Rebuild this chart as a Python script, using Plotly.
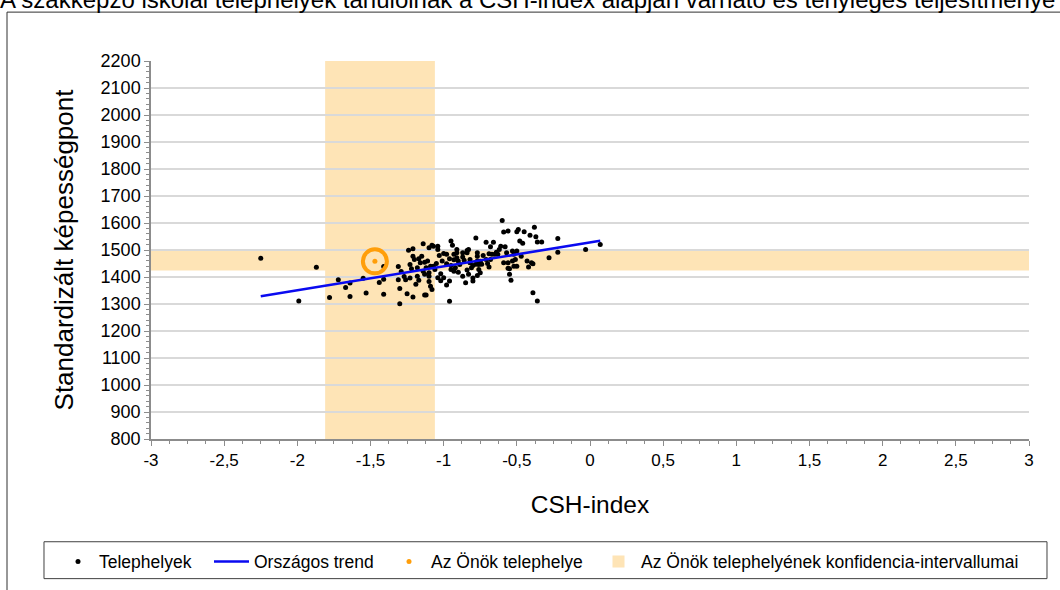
import plotly.graph_objects as go

# School sites: CSH-index vs. standardised ability score
telephely_x = [
    -2.25, -1.87, -1.99, -1.78, -1.72, -1.67, -1.64, -1.64, -1.55, -1.53,
    -1.44, -1.41, -1.41, -1.41, -1.31, -1.31, -1.30, -1.30, -1.27, -1.26,
    -1.25, -1.24, -1.21, -1.21, -1.23, -1.22, -1.23, -1.20, -1.18, -1.17,
    -1.16, -1.15, -1.14, -1.14, -1.13, -1.13, -1.13, -1.12, -1.12, -1.11,
    -1.10, -1.10, -1.09, -1.08, -1.08, -1.07, -1.07, -1.06, -1.05, -1.04,
    -1.03, -1.01, -1.02, -1.02, -1.00, -0.98, -0.98, -0.96, -0.96, -0.95,
    -0.95, -0.95, -0.94, -0.93, -0.93, -0.91, -0.90, -0.89, -0.87, -0.86,
    -0.85, -0.84, -0.84, -0.83, -0.82, -0.82, -0.80, -0.80, -0.78, -0.78,
    -0.77, -0.77, -0.77, -0.76, -0.76, -0.75, -0.74, -0.73, -0.71, -0.71,
    -0.70, -0.69, -0.66, -0.65, -0.64, -0.62, -0.61, -0.60, -0.59, -0.59,
    -0.58, -0.56, -0.56, -0.55, -0.55, -0.54, -0.53, -0.52, -0.51, -0.50,
    -0.49, -0.48, -0.46, -0.45, -0.43, -0.42, -0.41, -0.40, -0.39, -0.38,
    -0.37, -0.36, -0.36, -0.33, -0.28, -0.22, -0.22, -0.03, 0.07,
    -1.10, -1.21, -1.17, -1.29, -1.19, -1.18, -1.10, -1.09, -1.04, -0.98,
    -0.91, -0.91, -0.87, -0.90, -0.92, -0.87, -1.00, -0.96, -0.93, -1.04,
    -0.84, -0.77, -0.69, -0.63, -0.57, -0.68, -0.56, -0.53, -0.52, -0.47,
    -0.39, -0.81, -0.83, -0.75, -0.80, -0.68, -0.50, -0.67, -0.50,
]
telephely_y = [
    1469, 1436, 1311, 1324, 1390, 1361, 1378, 1328, 1395, 1341,
    1380, 1439, 1392, 1336, 1439, 1390, 1357, 1301, 1402, 1390,
    1338, 1499, 1505, 1326, 1446, 1431, 1396, 1465, 1434, 1388,
    1453, 1477, 1523, 1421, 1455, 1410, 1333, 1333, 1434, 1459,
    1416, 1383, 1366, 1518, 1354, 1514, 1440, 1428, 1450, 1514,
    1480, 1459, 1412, 1386, 1487, 1449, 1370, 1310, 1468, 1428,
    1533, 1443, 1518, 1484, 1464, 1490, 1418, 1446, 1474, 1462,
    1379, 1498, 1426, 1502, 1465, 1453, 1396, 1443, 1544, 1447,
    1406, 1459, 1490, 1446, 1428, 1458, 1447, 1480, 1529, 1465,
    1450, 1437, 1529, 1484, 1492, 1502, 1514, 1609, 1453, 1567,
    1512, 1432, 1570, 1410, 1431, 1388, 1496, 1484, 1465, 1568,
    1576, 1533, 1525, 1568, 1459, 1437, 1555, 1453, 1342, 1584,
    1549, 1311, 1530, 1530, 1471, 1543, 1492, 1502, 1520,
    1508, 1477, 1468, 1420, 1373, 1403, 1403, 1440, 1502, 1484,
    1502, 1471, 1490, 1459, 1434, 1403, 1397, 1385, 1421, 1397,
    1490, 1477, 1486, 1484, 1490, 1465, 1453, 1459, 1440, 1477,
    1449, 1434, 1410, 1416, 1385, 1512, 1496, 1484, 1440,
]

# National trend line (end points)
trend_x = [-2.25, 0.07]
trend_y = [1329, 1534]

# The school's own site and its confidence intervals
own_x = [-1.47]
own_y = [1458]
ci_x = [-1.81, -1.06]
ci_y = [1424, 1498]

x_tickvals = [-3, -2.5, -2, -1.5, -1, -0.5, 0, 0.5, 1, 1.5, 2, 2.5, 3]
x_ticktext = ["-3", "-2,5", "-2", "-1,5", "-1", "-0,5", "0", "0,5", "1", "1,5", "2", "2,5", "3"]

FONT = "Liberation Sans, Arial, sans-serif"
BAND = "#FEE4B6"
ORANGE = "#FF9E0A"

fig = go.Figure()

fig.add_trace(go.Scatter(
    x=telephely_x, y=telephely_y, mode="markers", name="Telephelyek",
    marker=dict(color="black", size=5), legend="legend", hoverinfo="x+y",
))
fig.add_trace(go.Scatter(
    x=trend_x, y=trend_y, mode="lines", name="Országos trend",
    line=dict(color="#0A0AF0", width=2.5), legend="legend2",
))
fig.add_trace(go.Scatter(
    x=own_x, y=own_y, mode="markers", showlegend=False,
    marker=dict(symbol="circle-open", size=24, color=ORANGE, line=dict(width=4, color=ORANGE)),
))
fig.add_trace(go.Scatter(
    x=own_x, y=own_y, mode="markers", name="Az Önök telephelye",
    marker=dict(color=ORANGE, size=5), legend="legend3",
))

# confidence bands
fig.add_shape(type="rect", xref="x", yref="paper", x0=ci_x[0], x1=ci_x[1], y0=0, y1=1,
              fillcolor=BAND, line=dict(width=0), layer="between",
              showlegend=True, name="Az Önök telephelyének konfidencia-intervallumai",
              legend="legend4")
fig.add_shape(type="rect", xref="paper", yref="y", x0=0, x1=1, y0=ci_y[0], y1=ci_y[1],
              fillcolor=BAND, line=dict(width=0), layer="between")

# outer frame and legend box
fig.add_shape(type="rect", xref="paper", yref="paper", x0=-0.164, x1=1.06, y0=-0.42, y1=1.1293,
              line=dict(color="#303030", width=1), fillcolor="rgba(0,0,0,0)", layer="above")
fig.add_shape(type="rect", xref="paper", yref="paper", x0=-0.12187, x1=1.0205, y0=-0.3694, y1=-0.2718,
              line=dict(color="#404040", width=1), fillcolor="rgba(0,0,0,0)", layer="above")

leg_common = dict(orientation="h", yanchor="middle", y=-0.3206, xanchor="left",
                  bgcolor="rgba(0,0,0,0)", borderwidth=0,
                  font=dict(family=FONT, size=17.5, color="black"))

fig.update_layout(
    width=1060, height=590,
    margin=dict(l=151, r=31, t=61, b=150),
    paper_bgcolor="white", plot_bgcolor="white",
    font=dict(family=FONT, color="black"),
    title=dict(
        text="A szakképző iskolai telephelyek tanulóinak a CSH-index alapján várható és tényleges teljesítménye",
        x=0, xref="container", xanchor="left",
        y=1.0, yref="container", yanchor="middle",
        font=dict(family=FONT, size=24, color="black"),
    ),
    legend=dict(leg_common, x=(57 - 151) / 878, itemwidth=32),
    legend2=dict(leg_common, x=(209 - 151) / 878, itemwidth=35),
    legend3=dict(leg_common, x=(387 - 151) / 878, itemwidth=34),
    legend4=dict(leg_common, x=(596 - 151) / 878, itemwidth=35),
    xaxis=dict(
        range=[-3, 3], tickvals=x_tickvals, ticktext=x_ticktext,
        showgrid=False, zeroline=False,
        showline=True, linecolor="#8C8C8C", linewidth=2,
        ticks="outside", ticklen=5, tickcolor="#8C8C8C",
        minor=dict(dtick=0.125, ticks="outside", ticklen=3, tickcolor="#8C8C8C"),
        tickfont=dict(family=FONT, size=17),
        title=dict(text="CSH-index", font=dict(family=FONT, size=24.5), standoff=26),
    ),
    yaxis=dict(
        range=[800, 2200], dtick=100,
        showgrid=True, gridcolor="#D9D9D9", gridwidth=2, zeroline=False,
        showline=True, linecolor="#8C8C8C", linewidth=1.5,
        ticks="outside", ticklen=5, tickcolor="#8C8C8C",
        minor=dict(dtick=20, ticks="outside", ticklen=3, tickcolor="#8C8C8C", showgrid=False),
        tickfont=dict(family=FONT, size=18),
        title=dict(text="Standardizált képességpont", font=dict(family=FONT, size=26), standoff=20),
    ),
)

fig.write_html("out.html")
